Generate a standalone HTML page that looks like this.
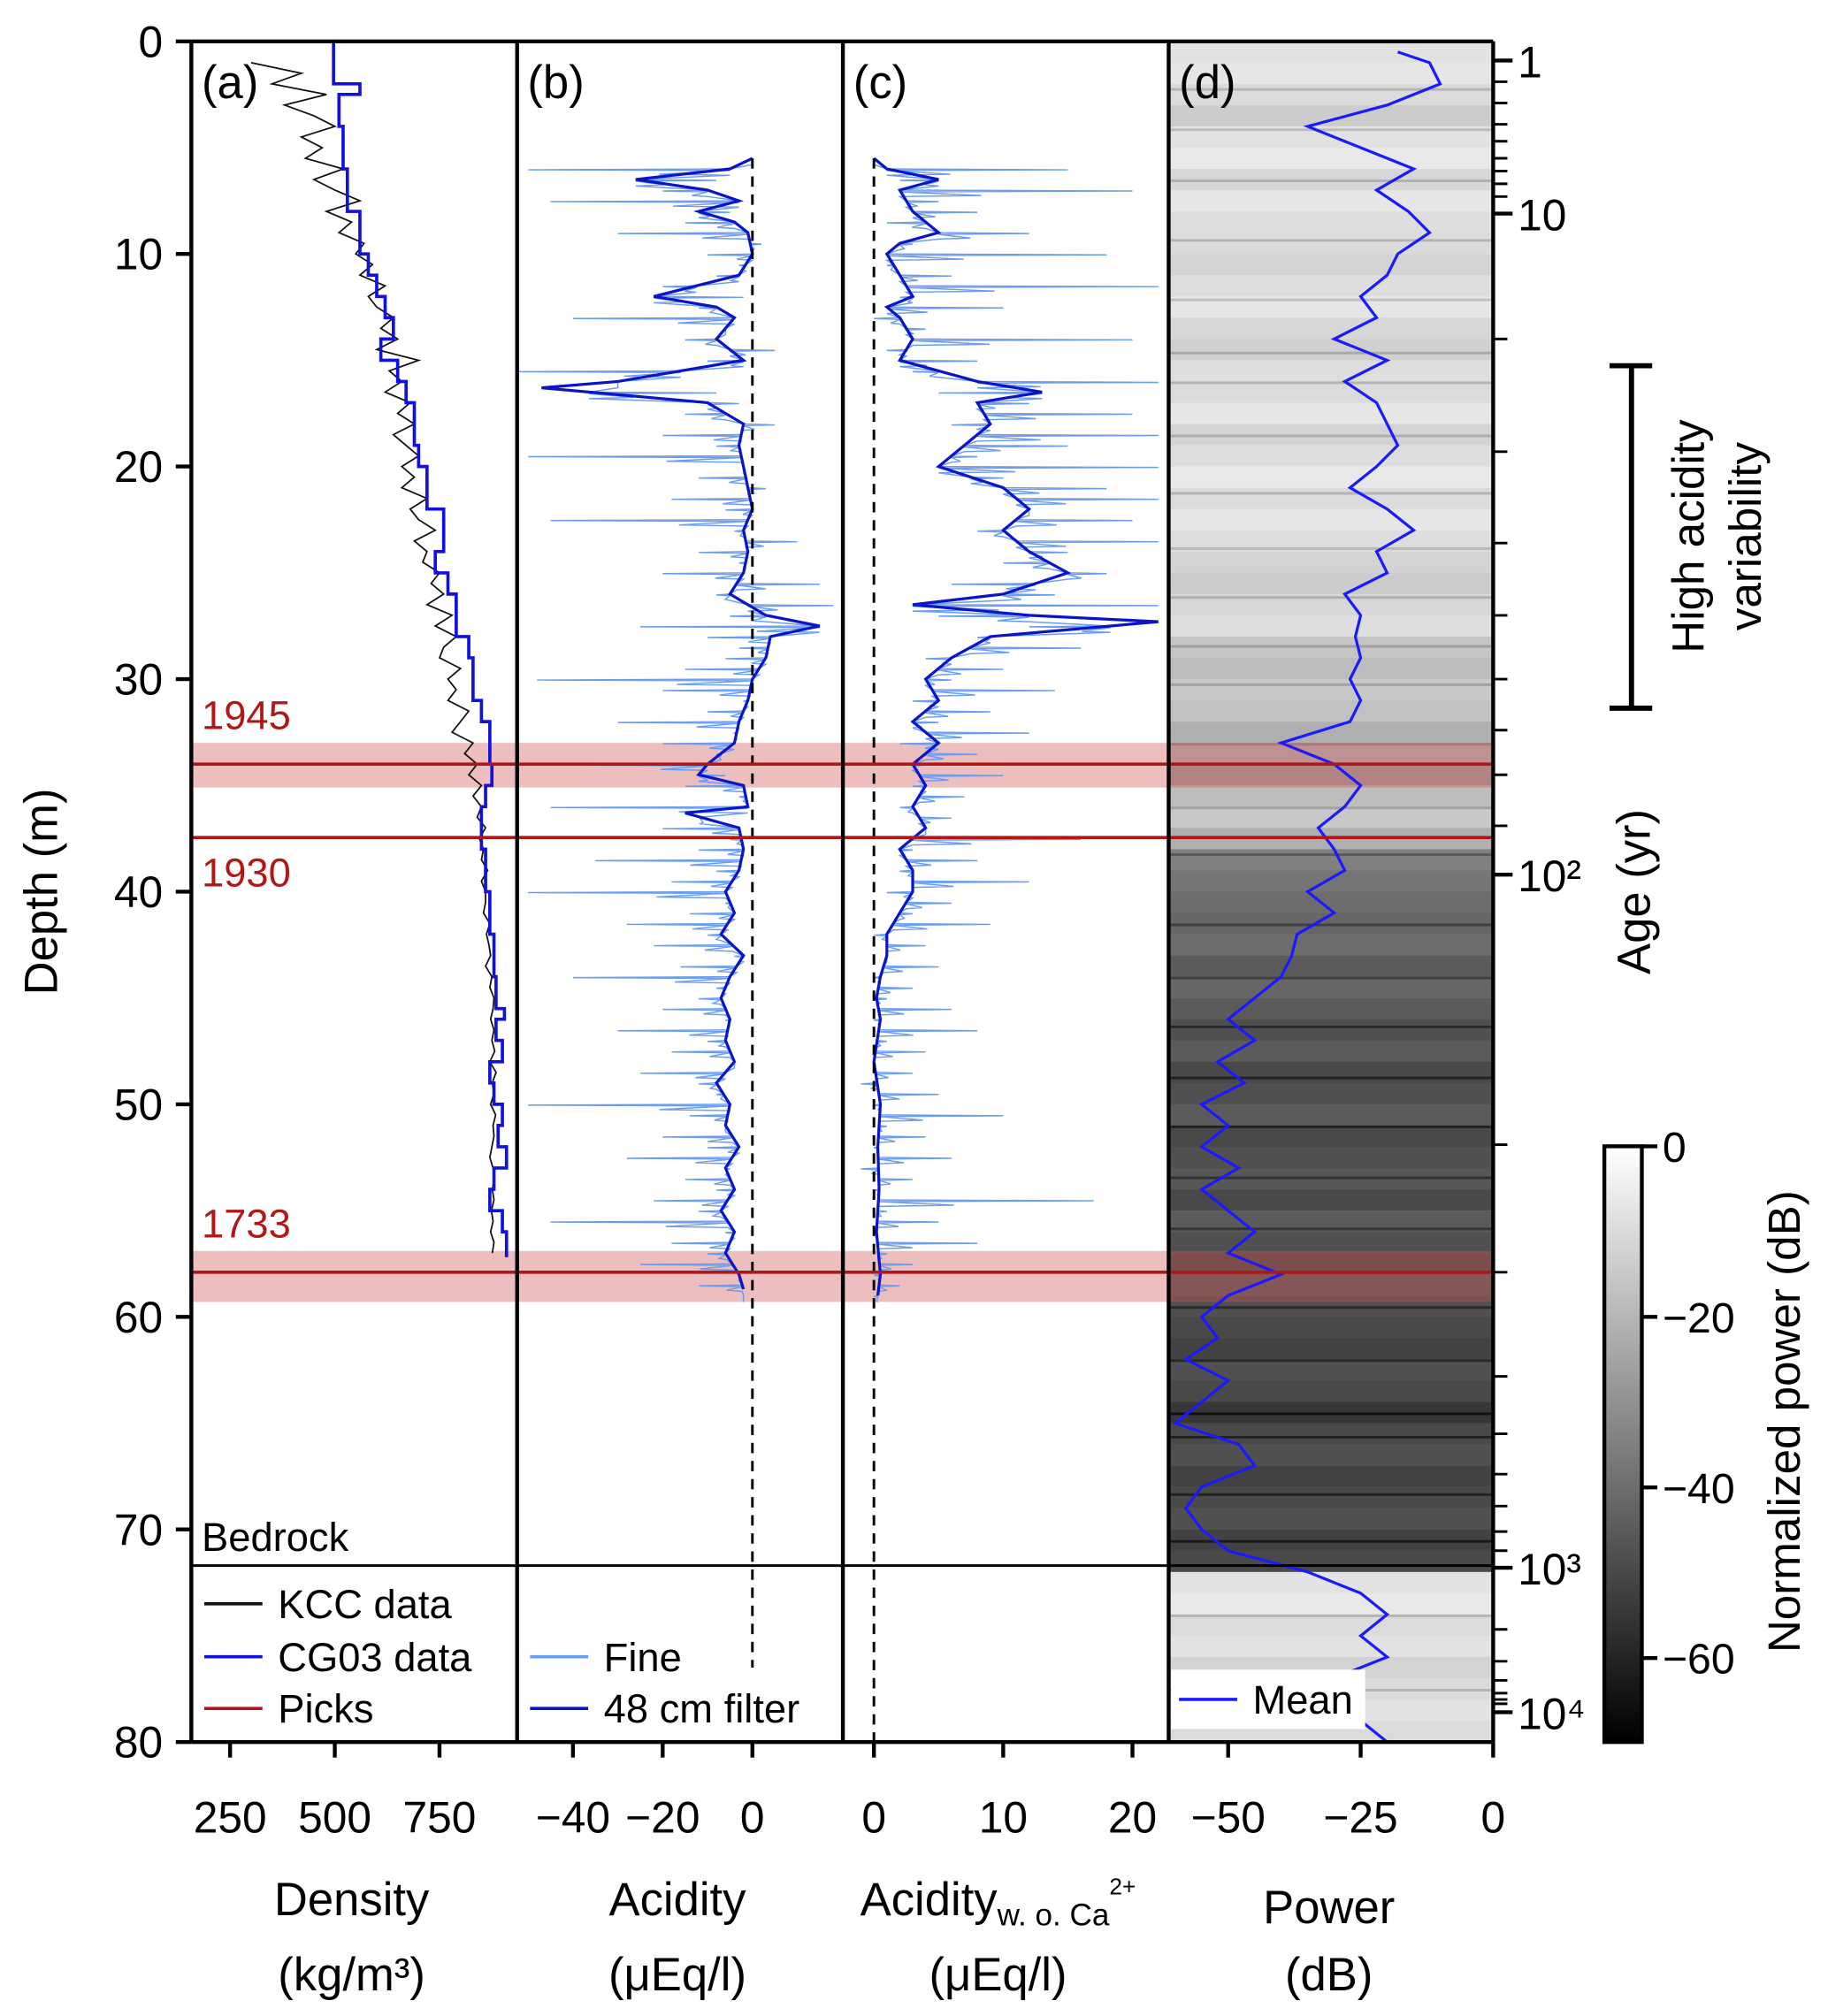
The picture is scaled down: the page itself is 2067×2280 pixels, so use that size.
<!DOCTYPE html>
<html><head><meta charset="utf-8"><style>body{margin:0;background:#fff}svg{display:block}text{font-family:"Liberation Sans",sans-serif}</style></head>
<body>
<svg id="c" xmlns="http://www.w3.org/2000/svg" width="2067" height="2280" viewBox="0 0 1414 1560" preserveAspectRatio="none">
<defs><linearGradient id="cbg" x1="0" y1="0" x2="0" y2="1"><stop offset="0" stop-color="#fff"/><stop offset="1" stop-color="#000"/></linearGradient>
<clipPath id="clipd"><rect x="904" y="32" width="251" height="1316"/></clipPath></defs>
<g id="heat" clip-path="url(#clipd)"></g>
<g id="marks"></g>
</svg>
<script>
const heatDb=[-8,-7,-10,-14,-8,-6,-11,-7,-9,-10,-12,-9,-7,-11,-13,-9,-10,-7,-12,-9,-6,-10,-7,-9,-12,-14,-11,-9,-16,-18,-15,-17,-22,-20,-26,-18,-15,-22,-35,-38,-40,-42,-40,-45,-42,-45,-48,-45,-50,-48,-45,-50,-48,-46,-50,-45,-48,-50,-46,-48,-50,-52,-48,-50,-55,-50,-48,-52,-50,-48,-52,-50,-8,-6,-10,-8,-12,-10,-8,-10];
const stripeDepths=[2.2,4.1,6.5,9.3,12.1,14.6,16.0,18.5,21.2,23.8,26.1,28.4,30.2,33.0,36.0,38.2,41.5,44.0,46.3,48.7,51.0,53.4,55.8,59.5,62.0,64.5,65.6,68.3,70.5,74.0,77.5];
const kccStart=1, kccStep=0.5;
const kccVals=[300,420,350,480,380,450,500,420,470,430,520,450,500,560,480,540,510,570,550,590,560,620,580,600,640,610,650,600,700,630,660,620,680,650,690,640,670,700,660,690,660,720,680,700,740,690,720,710,750,730,760,720,780,740,790,760,750,800,770,790,770,820,800,780,830,810,840,820,850,830,850,840,860,845,855,850,865,850,860,860,855,870,862,868,872,860,875,870,880,878,872,880,875,882,870,885,876,880,872,884,878,880,875,870,878,882,876,880,874,878,872,880,876];
const cgTop=[0,2,2.5,4,6,8,10,11,12,13,14,15,16,17,19,20,22,24,25,26,28,29,31,32,34,35,36,38,40,42,44,45.5,46,47,48,49,50,51,52,53,54,55,56,57.2];
const cgVal=[497,560,510,520,530,560,580,600,620,640,610,650,670,690,700,720,760,740,770,790,820,830,850,870,875,860,850,860,870,880,885,905,885,900,870,880,900,890,910,880,870,900,910];
const filtBDepth=[5.5,6,6.5,7,7.5,8,8.5,9,10,11,12,12.5,13,14,15,16,16.3,17,18,19,20,21,22,23,24,25,26,27,27.5,28,29,30,31,32,33,34,34.5,35,36,36.3,37,38,39,40,41,42,43,44,45,46,47,48,49,50,51,52,53,54,55,56,57,58,58.7];
const filtBVal=[0,-5,-26,-10,-3,-12,-4,-1,0,-3,-22,-8,-4,-8,-2,-30,-47,-10,-2,-3,-2,-1,0,-2,-1,-2,-5,3,15,4,3,0,-1,-3,-4,-10,-12,-2,-1,-15,-3,-2,-3,-6,-4,-7,-2,-5,-7,-5,-6,-4,-8,-5,-6,-3,-6,-4,-7,-4,-6,-3,-2];
const fineStart=5.5, fineStep=0.5;
const fineBVal=[0,-50,-8,-20,-45,-5,-15,-30,2,-10,-3,-8,-20,-2,-12,-40,-6,-15,5,-10,-52,-30,-8,-3,-15,5,-20,-8,-50,-2,-12,3,-18,-6,-45,-4,10,-12,-3,-20,15,-8,18,-5,-25,-10,-3,-6,-15,-48,-20,-2,-10,-30,-4,-20,-8,-40,-6,-15,-3,-45,-10,-20,-5,-12,-35,-8,-18,-50,-6,-14,-28,-10,-22,-4,-16,-40,-8,-12,-20,-6,-30,-10,-18,-4,-25,-12,-8,-50,-14,-6,-20,-10,-28,-5,-15,-8,-22,-12,-45,-6,-18,-10,-25,-3,-12,-2];
const filtCDepth=[5.5,6,6.5,7,8,9,9.5,10,11,12,12.5,13,14,15,16,16.5,17,18,19,20,21,22,23,24,25,26,26.5,27,27.3,28,29,30,31,32,33,34,35,36,37,38,39,40,41,42,43,44,45,46,48,50,52,54,56,58,59];
const filtCVal=[0,1,5,2,3,5,2,1,2,3,1,2,3,2,8,13,8,9,7,5,10,12,10,12,15,10,3,12,22,9,6,4,5,3,5,3,4,3,4,2,3,3,2,1,1,0.5,0.2,0.5,0,0.5,0.3,0.4,0.2,0.5,0.3];
const fineCVal=[0,15,2,20,5,8,1,12,3,18,1,6,22,2,10,0,4,20,1,8,3,22,5,12,20,6,22,15,8,22,10,18,22,12,20,8,22,15,10,18,6,14,22,5,12,8,16,4,10,6,14,3,9,5,12,2,8,4,10,3,7,2,6,4,16,3,8,2,12,1,6,3,9,0,4,1,5,0,3,1,6,0,8,1,4,0,3,-1,5,0,10,1,4,0,6,-1,3,0,17,1,5,0,8,1,3,0,2,0];
const meanDepth=[0.5,1,2,3,4,5,6,7,8,9,10,11,12,13,14,15,16,17,18,19,20,21,22,23,24,25,26,27,28,29,30,31,32,33,34,35,36,37,38,39,40,41,42,43,44,45,46,47,48,49,50,51,52,53,54,55,56,57,58,59,60,61,62,63,64,65,66,67,68,69,70,71,72,73,74,75,76,77,78,79,80];
const meanVal=[-18,-12,-10,-20,-35,-25,-15,-22,-16,-12,-18,-20,-25,-22,-30,-20,-28,-22,-20,-18,-22,-27,-20,-15,-22,-20,-28,-25,-26,-25,-27,-25,-27,-40,-30,-25,-28,-33,-30,-28,-35,-30,-37,-38,-40,-45,-50,-45,-52,-47,-55,-50,-55,-48,-55,-50,-45,-50,-40,-50,-55,-52,-58,-50,-55,-60,-48,-45,-55,-58,-55,-50,-35,-25,-20,-25,-20,-30,-35,-25,-20];
const depthTicks=[0,10,20,30,40,50,60,70,80];
const densTicks=[250,500,750], acidTicks=[-40,-20,0], acidCTicks=[0,10,20], powTicks=[-50,-25,0];
const ageMajorDepth=[0.9,8.1,39.2,71.8,78.6];
const ageMajorLabel=['1','10','10²','10³','10⁴'];
const ageMinorDepth=[1.9,2.9,3.9,4.7,5.5,6.1,6.7,7.3,14.0,19.3,23.6,27.0,30.0,32.4,34.5,36.9,51.9,57.9,62.8,65.5,67.4,68.9,70.1,71.0,74.7,76.2,77.1,77.7,78.0,78.2];
const picksDepth=[34.0,37.45,57.9], picksLabel=['1945','1930','1733'], picksBand=[[33.0,35.1],null,[56.9,59.3]];
const cbTicks=[0,-20,-40,-60];

const NS='http://www.w3.org/2000/svg';
const M=document.getElementById('marks'), H=document.getElementById('heat');
function el(t,a,p){const e=document.createElementNS(NS,t);for(const k in a)e.setAttribute(k,a[k]);(p||M).appendChild(e);return e;}
const Y=d=>32+d*16.45;
const XA=v=>148+(v-157.5)*0.324, XB=v=>582+v*3.47, XC=v=>676+v*10, XD=v=>1155+v*4.1;
const grey=db=>{const g=Math.round(255*Math.max(0,Math.min(1,1+db/70)));return `rgb(${g},${g},${g})`;};
function interp(ds,vs,d){if(d<=ds[0])return vs[0];for(let i=1;i<ds.length;i++){if(d<=ds[i]){const t=(d-ds[i-1])/(ds[i]-ds[i-1]);return vs[i-1]+t*(vs[i]-vs[i-1]);}}return vs[vs.length-1];}
heatDb.forEach((db,i)=>{const r=el('rect',{x:904,y:Y(i),width:251,height:16.6,fill:grey(db)},H);

});
stripeDepths.forEach(d=>{const idx=Math.min(79,Math.floor(d));const r=el('rect',{x:904,y:Y(d),width:251,height:2,fill:grey(heatDb[idx]-15),opacity:0.7},H);

});
picksBand.forEach((b,i)=>{if(!b)return;const r=el('rect',{x:148,y:Y(b[0]),width:1007,height:Y(b[1])-Y(b[0]),fill:'rgba(205,85,85,0.38)'});

});
function poly(pts,attrs,name){const e=el('polyline',Object.assign({points:pts.map(p=>p[0].toFixed(1)+','+p[1].toFixed(1)).join(' '),fill:'none'},attrs));

return e;}
function spikes(vals,ds,fv,X){const pts=[];vals.forEach((v,i)=>{const d=fineStart+i*fineStep;const b=interp(ds,fv,d);pts.push([X(b),Y(d)]);pts.push([X(v),Y(d+0.04)]);pts.push([X(b),Y(d+0.08)]);pts.push([X(b+(v-b)*0.35),Y(d+0.25)]);pts.push([X(b),Y(d+0.3)]);});return pts;}
poly(kccVals.map((v,i)=>[XA(v),Y(kccStart+i*kccStep)]),{stroke:'#111','stroke-width':1.2},'kcc-density-line');
const cgPts=[];cgVal.forEach((v,i)=>{cgPts.push([XA(v),Y(cgTop[i])]);cgPts.push([XA(v),Y(cgTop[i+1])]);});
poly(cgPts,{stroke:'#1010e0','stroke-width':2.5},'cg03-density-line');
poly(spikes(fineBVal,filtBDepth,filtBVal,XB),{stroke:'#6a9cf0','stroke-width':1},'acidity-fine-line');
poly(filtBVal.map((v,i)=>[XB(v),Y(filtBDepth[i])]),{stroke:'#0a14c8','stroke-width':2.2},'acidity-filter-line');
poly(spikes(fineCVal,filtCDepth,filtCVal,XC),{stroke:'#6a9cf0','stroke-width':1},'acidity-woca-fine-line');
poly(filtCVal.map((v,i)=>[XC(v),Y(filtCDepth[i])]),{stroke:'#0a14c8','stroke-width':2.2},'acidity-woca-filter-line');
poly(meanVal.map((v,i)=>[XD(v),Y(meanDepth[i])]),{stroke:'#1a1aff','stroke-width':2.2},'power-mean-line');
let z=el('line',{x1:XB(0),x2:XB(0),y1:Y(5.5),y2:Y(76.5),stroke:'#000','stroke-width':2,'stroke-dasharray':'8,6'});

z=el('line',{x1:XC(0),x2:XC(0),y1:Y(5.5),y2:Y(80),stroke:'#000','stroke-width':2,'stroke-dasharray':'8,6'});

picksDepth.forEach((d,i)=>{const l=el('line',{x1:148,x2:1155,y1:Y(d),y2:Y(d),stroke:'#b01818','stroke-width':2.5});


const t=el('text',{x:156,y:i==1?Y(d)+38:Y(d)-27,'font-size':31,fill:'#b01818'});t.textContent=picksLabel[i];

});
z=el('line',{x1:148,x2:1155,y1:Y(71.7),y2:Y(71.7),stroke:'#000','stroke-width':2});

[148,400,652,904,1155].forEach((x,i)=>{const l=el('line',{x1:x,x2:x,y1:32,y2:1348,stroke:'#000','stroke-width':3});

});
z=el('line',{x1:148,x2:1155,y1:32,y2:32,stroke:'#000','stroke-width':3});
z=el('line',{x1:148,x2:1155,y1:1348,y2:1348,stroke:'#000','stroke-width':3});
function txt(x,y,s,size,anchor,name,extra){const t=el('text',Object.assign({x:x,y:y,'font-size':size,'text-anchor':anchor||'start'},extra||{}));t.textContent=s;

return t;}
depthTicks.forEach(d=>{el('line',{x1:136,x2:148,y1:Y(d),y2:Y(d),stroke:'#000','stroke-width':3});txt(126,Y(d)+12,String(d),34,'end','depth-tick-label');});
function xticks(arr,f,name){arr.forEach(v=>{el('line',{x1:f(v),x2:f(v),y1:1348,y2:1360,stroke:'#000','stroke-width':3});txt(f(v),1418,String(v).replace('-','−'),34,'middle',name);});}
xticks(densTicks,XA,'density-tick-label');xticks(acidTicks,XB,'acidity-tick-label');xticks(acidCTicks,XC,'acidity-woca-tick-label');xticks(powTicks,XD,'power-tick-label');
ageMajorDepth.forEach((d,i)=>{el('line',{x1:1155,x2:1170,y1:Y(d),y2:Y(d),stroke:'#000','stroke-width':3});txt(1174,Y(d)+13,ageMajorLabel[i],34,'start','age-tick-label');});
ageMinorDepth.forEach(d=>{el('line',{x1:1155,x2:1166,y1:Y(d),y2:Y(d),stroke:'#000','stroke-width':2});});
txt(1276,690,'Age (yr)',36,'middle','age-axis-title',{transform:'rotate(-90 1276 690)'});
txt(44,690,'Depth (m)',36,'middle','y-axis-title',{transform:'rotate(-90 44 690)'});
el('line',{x1:1262,x2:1262,y1:283,y2:548,stroke:'#000','stroke-width':4});
el('line',{x1:1245,x2:1278,y1:283,y2:283,stroke:'#000','stroke-width':4});
el('line',{x1:1245,x2:1278,y1:548,y2:548,stroke:'#000','stroke-width':4});
txt(1318,415,'High acidity',35,'middle','high-acidity-label',{transform:'rotate(-90 1318 415)'});
txt(1362,415,'variability',35,'middle','high-acidity-label-2',{transform:'rotate(-90 1362 415)'});
['(a)','(b)','(c)','(d)'].forEach((s,i)=>txt(156+i*252,76,s,36,'start','panel-label'));
txt(156,1200,'Bedrock',31,'start','bedrock-label');
function leg(x,y,c,s,n){el('line',{x1:x,x2:x+45,y1:y,y2:y,stroke:c,'stroke-width':2.5});txt(x+57,y+11,s,31,'start',n);}
leg(158,1241,'#111','KCC data','legend-kcc');leg(158,1282,'#1010e0','CG03 data','legend-cg03');leg(158,1322,'#b01818','Picks','legend-picks');
leg(410,1282,'#6a9cf0','Fine','legend-fine');leg(410,1322,'#0a14c8','48 cm filter','legend-filter');
el('rect',{x:906,y:1292,width:150,height:46,fill:'#fff'});leg(912,1315,'#1a1aff','Mean','legend-mean');
txt(272,1482,'Density',36,'middle','density-title');txt(272,1540,'(kg/m³)',36,'middle','density-unit');
txt(524,1482,'Acidity',36,'middle','acidity-title');txt(524,1540,'(μEq/l)',36,'middle','acidity-unit');
const tc=txt(772,1482,'Acidity',36,'middle','acidity-woca-title');
const ts=document.createElementNS(NS,'tspan');ts.setAttribute('font-size','24');ts.setAttribute('dy','8');ts.textContent='w. o. Ca';tc.appendChild(ts);
const ts2=document.createElementNS(NS,'tspan');ts2.setAttribute('font-size','18');ts2.setAttribute('dy','-24');ts2.textContent='2+';tc.appendChild(ts2);
txt(772,1540,'(μEq/l)',36,'middle','acidity-woca-unit');
txt(1028,1488,'Power',36,'middle','power-title');txt(1028,1540,'(dB)',36,'middle','power-unit');
z=el('rect',{x:1241,y:887,width:29,height:461,fill:'url(#cbg)',stroke:'#000','stroke-width':3});
cbTicks.forEach(v=>{const y=887-v*6.6;el('line',{x1:1270,x2:1282,y1:y,y2:y,stroke:'#000','stroke-width':3});txt(1286,y+12,String(v).replace('-','−'),33,'start','colorbar-tick-label');});
txt(1392,1100,'Normalized power (dB)',35,'middle','colorbar-title',{transform:'rotate(-90 1392 1100)'});
</script>
</body></html>
